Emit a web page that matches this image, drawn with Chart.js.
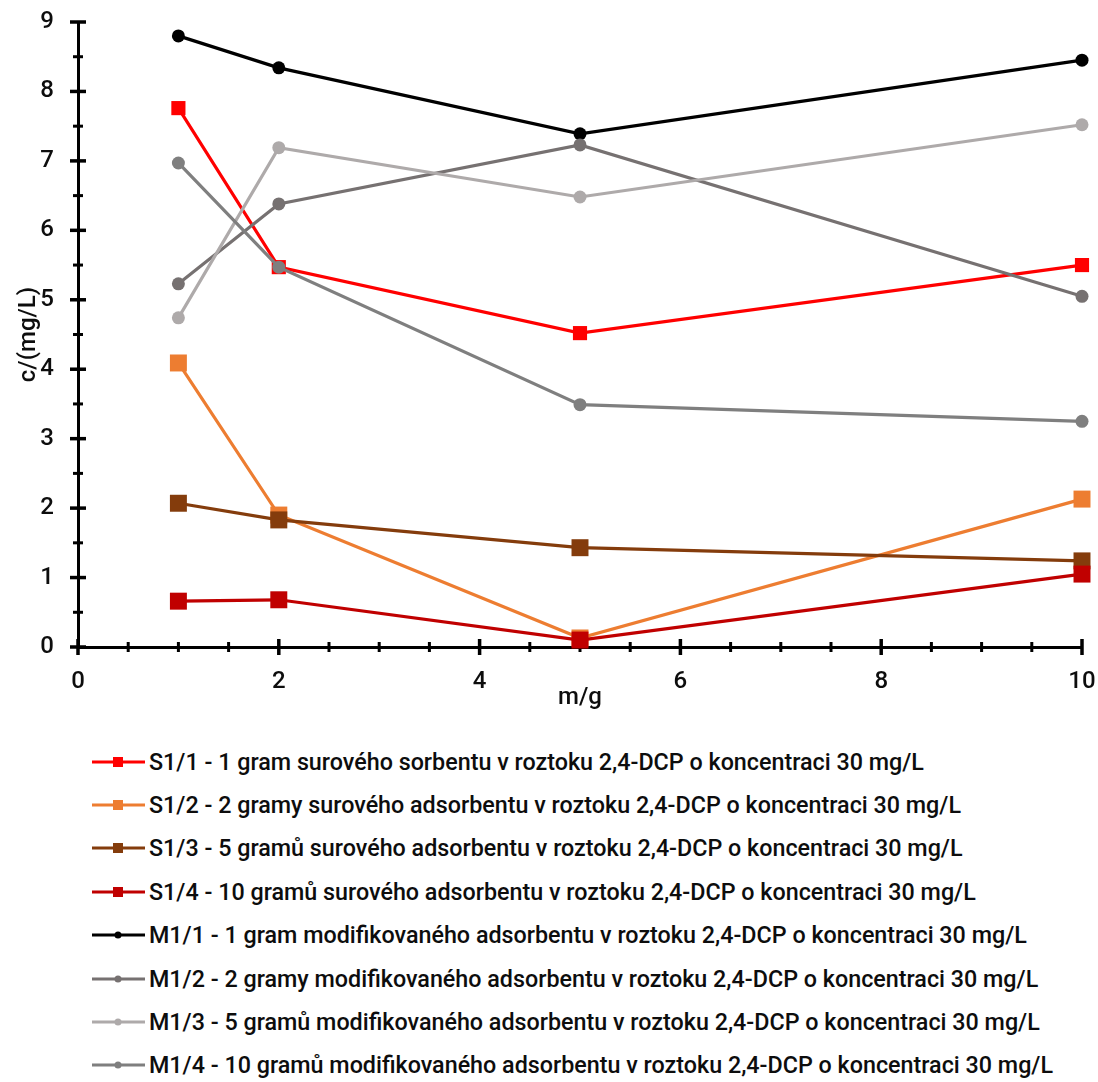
<!DOCTYPE html>
<html>
<head>
<meta charset="utf-8">
<script src="https://cdn.jsdelivr.net/npm/chart.js@4.4.1/dist/chart.umd.min.js"></script>
<style>
  body { margin: 0; background: #fff; font-family: Roboto, sans-serif; }
  #wrap { position: relative; width: 1098px; height: 1082px; }
  #chart { position: absolute; left: 0; top: 0; }
  #legend { position: absolute; left: 90px; top: 740px; }
  .row { display: flex; align-items: center; height: 43.4px; font-size: 23.3px; font-weight: 500; color: #0d0d0d; white-space: nowrap; }
  .row svg { margin-right: 3px; flex: none; }
</style>
</head>
<body>
<div id="wrap">
  <canvas id="chart" width="1098" height="720"></canvas>
  <div id="legend"></div>
</div>
<script>
// mass of sorbent (g)
const massX = [1, 2, 5, 10];

// residual 2,4-DCP concentration (mg/L)
const s11 = [7.76, 5.47, 4.52, 5.50];
const s12 = [4.09, 1.90, 0.13, 2.13];
const s13 = [2.07, 1.83, 1.43, 1.24];
const s14 = [0.66, 0.68, 0.10, 1.05];
const m11 = [8.80, 8.34, 7.39, 8.45];
const m12 = [5.23, 6.38, 7.23, 5.05];
const m13 = [4.74, 7.19, 6.48, 7.52];
const m14 = [6.97, 5.47, 3.49, 3.25];

const xTicks = [0, 2, 4, 6, 8, 10];
const yTicks = [0, 1, 2, 3, 4, 5, 6, 7, 8, 9];

const seriesNames = [
  'S1/1 - 1 gram surového sorbentu v roztoku 2,4-DCP o koncentraci 30 mg/L',
  'S1/2 - 2 gramy surového adsorbentu v roztoku 2,4-DCP o koncentraci 30 mg/L',
  'S1/3 - 5 gramů surového adsorbentu v roztoku 2,4-DCP o koncentraci 30 mg/L',
  'S1/4 - 10 gramů surového adsorbentu v roztoku 2,4-DCP o koncentraci 30 mg/L',
  'M1/1 - 1 gram modifikovaného adsorbentu v roztoku 2,4-DCP o koncentraci 30 mg/L',
  'M1/2 - 2 gramy modifikovaného adsorbentu v roztoku 2,4-DCP o koncentraci 30 mg/L',
  'M1/3 - 5 gramů modifikovaného adsorbentu v roztoku 2,4-DCP o koncentraci 30 mg/L',
  'M1/4 - 10 gramů modifikovaného adsorbentu v roztoku 2,4-DCP o koncentraci 30 mg/L'
];
const seriesValues = [s11, s12, s13, s14, m11, m12, m13, m14];
const seriesColors = ['#ff0000', '#ed7d31', '#843c0c', '#c00000', '#000000', '#767171', '#aeaaaa', '#7f7f7f'];
const seriesMarkers = ['rect', 'rect', 'rect', 'rect', 'circle', 'circle', 'circle', 'circle'];
const markerRadius = [10, 12, 12, 12, 6.5, 6.5, 6.5, 6.5];

const FONT = 'Roboto';
const TEXT = '#0d0d0d';

// tick marks that cross the axis line, majors longer than minors
const crossTicks = {
  id: 'crossTicks',
  beforeDatasetsDraw(chart) {
    const { ctx, scales: { x, y } } = chart;
    const x0 = x.getPixelForValue(0);
    const y0 = y.getPixelForValue(0);
    ctx.save();
    ctx.strokeStyle = '#000';
    ctx.lineCap = 'butt';
    for (let v = 0; v <= 10; v += 0.5) {
      const px = x.getPixelForValue(v);
      const major = v % 2 === 0;
      const len = major ? 8 : 5;
      ctx.lineWidth = major ? 3.5 : 3;
      ctx.beginPath();
      ctx.moveTo(px, y0 - len);
      ctx.lineTo(px, y0 + len);
      ctx.stroke();
    }
    for (let v = 0; v <= 9; v += 0.5) {
      const py = y.getPixelForValue(v);
      const major = v % 1 === 0;
      const len = major ? 8 : 5;
      ctx.lineWidth = major ? 3.5 : 3;
      ctx.beginPath();
      ctx.moveTo(x0 - len, py);
      ctx.lineTo(x0 + len, py);
      ctx.stroke();
    }
    ctx.restore();
  }
};

const datasets = seriesValues.map((vals, i) => ({
  label: seriesNames[i],
  data: vals.map((v, k) => ({ x: massX[k], y: v })),
  borderColor: seriesColors[i],
  backgroundColor: seriesColors[i],
  borderWidth: 3.2,
  pointStyle: seriesMarkers[i],
  pointRadius: markerRadius[i],
  pointBorderWidth: 0,
  tension: 0,
  clip: false,
  order: seriesValues.length - i
}));

const tickFont = { family: FONT, size: 24, weight: '500' };

new Chart(document.getElementById('chart'), {
  type: 'line',
  data: { datasets },
  options: {
    responsive: false,
    animation: false,
    layout: { padding: { top: 22, right: 16, bottom: 0, left: 0 } },
    plugins: { legend: { display: false }, tooltip: { enabled: false } },
    scales: {
      x: {
        type: 'linear',
        min: 0,
        max: 10,
        afterFit(s) { s.height = 73; s.paddingLeft = 0; s.paddingRight = 0; },
        afterBuildTicks(s) { s.ticks = xTicks.map(v => ({ value: v })); },
        grid: { display: false, drawTicks: false },
        border: { color: '#000', width: 3 },
        ticks: { padding: 21, color: TEXT, font: tickFont },
        title: { display: true, text: 'm/g', color: TEXT, font: tickFont, padding: { top: 0, bottom: 8 } }
      },
      y: {
        min: 0,
        max: 9,
        afterFit(s) { s.width = 78; s.paddingTop = 0; s.paddingBottom = 0; },
        afterBuildTicks(s) { s.ticks = yTicks.map(v => ({ value: v })); },
        grid: { display: false, drawTicks: false },
        border: { color: '#000', width: 3 },
        ticks: { padding: 24, color: TEXT, font: tickFont },
        title: { display: true, text: 'c/(mg/L)', color: TEXT, font: tickFont, padding: { top: 15, bottom: 0 } }
      }
    }
  },
  plugins: [crossTicks]
});

// legend rows: line sample with the series marker, then the label
const legend = document.getElementById('legend');
seriesNames.forEach((name, i) => {
  const c = seriesColors[i];
  const mark = seriesMarkers[i] === 'rect'
    ? `<rect x="23" y="7" width="10" height="10" fill="${c}"/>`
    : `<circle cx="28" cy="12" r="3.5" fill="${c}"/>`;
  const row = document.createElement('div');
  row.className = 'row';
  row.innerHTML = `<svg width="56" height="24"><line x1="2" y1="12" x2="55" y2="12" stroke="${c}" stroke-width="3"/>${mark}</svg><span>${name}</span>`;
  legend.appendChild(row);
});
</script>
</body>
</html>
